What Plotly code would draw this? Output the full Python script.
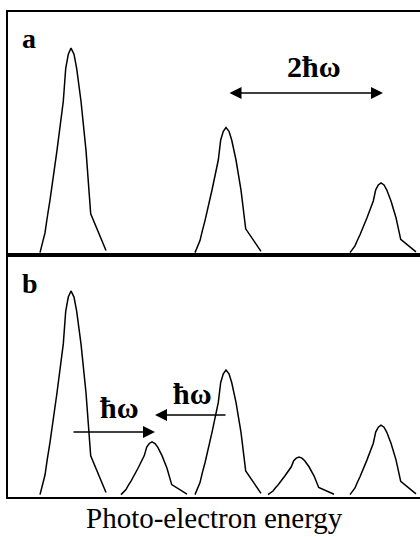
import plotly.graph_objects as go

# Normalised peak profile (offset from apex, fraction of peak height)
PROFILE_DX = [-31, -26, -23.7, -21, -14, -7.7, -5.3, -2.7, 0, 3, 5.7, 10, 15, 18.3, 19.7, 35]
PROFILE_Y = [0.0, 0.096, 0.174, 0.256, 0.5, 0.74, 0.9, 0.97, 1.0, 0.97, 0.9, 0.74, 0.5, 0.256, 0.19, 0.01]

# Panel a: photo-electron peaks (position, height)
A_CENTERS = [63, 218, 373]
A_HEIGHTS = [0.85, 0.52, 0.29]

# Panel b: with sidebands
B_CENTERS = [63, 144, 218, 291, 373]
B_HEIGHTS = [0.85, 0.22, 0.52, 0.157, 0.29]

X_TITLE = "Photo-electron energy"
FONT = "Liberation Serif, Times New Roman, serif"


def build(centers, heights):
    xs, ys = [], []
    for c, h in zip(centers, heights):
        xs += [c + d for d in PROFILE_DX] + [None]
        ys += [h * p for p in PROFILE_Y] + [None]
    return xs, ys


fig = go.Figure()
ax, ay = build(A_CENTERS, A_HEIGHTS)
bx, by = build(B_CENTERS, B_HEIGHTS)
fig.add_trace(go.Scatter(x=ax, y=ay, mode="lines", line=dict(color="black", width=1.5),
                         xaxis="x", yaxis="y", hoverinfo="skip", showlegend=False))
fig.add_trace(go.Scatter(x=bx, y=by, mode="lines", line=dict(color="black", width=1.5),
                         xaxis="x2", yaxis="y2", hoverinfo="skip", showlegend=False))

axis_common = dict(showgrid=False, zeroline=False, showticklabels=False, ticks="",
                   showline=True, linecolor="black", linewidth=1.5)

split = (497 - 255) / 485.0

fig.update_layout(
    width=420, height=537,
    margin=dict(l=8, r=0, t=12, b=40),
    paper_bgcolor="white", plot_bgcolor="white",
    xaxis=dict(range=[0, 412], domain=[0, 1], anchor="y", mirror=True, **axis_common),
    yaxis=dict(range=[-0.01, 1.0], domain=[split, 1], anchor="x", **axis_common),
    xaxis2=dict(range=[0, 412], domain=[0, 1], anchor="y2", mirror=True, **axis_common),
    yaxis2=dict(range=[-0.01, 1.0], domain=[0, split], anchor="x2", **axis_common),
    font=dict(family=FONT, color="black"),
)

annotations = [
    # panel labels
    dict(text="<b>a</b>", x=12, y=0.888, xref="x", yref="y", showarrow=False,
         xanchor="left", yanchor="middle", font=dict(size=28, family=FONT)),
    dict(text="<b>b</b>", x=12, y=0.883, xref="x2", yref="y2", showarrow=False,
         xanchor="left", yanchor="middle", font=dict(size=28, family=FONT)),
    # 2ħω double arrow
    dict(text="", x=375, y=0.663, ax=220, ay=0.663, xref="x", yref="y", axref="x", ayref="y",
         showarrow=True, arrowhead=2, arrowsize=1.6, arrowwidth=1.5, arrowcolor="black",
         arrowside="end+start", startarrowhead=2, startarrowsize=1.6, standoff=0, startstandoff=0),
    dict(text="<b>2ħω</b>", x=306, y=0.773, xref="x", yref="y", showarrow=False,
         xanchor="center", yanchor="middle", font=dict(size=30, family=FONT)),
    # panel b arrows
    dict(text="", x=147, y=0.261, ax=64, ay=0.261, xref="x2", yref="y2", axref="x2", ayref="y2",
         showarrow=True, arrowhead=2, arrowsize=1.6, arrowwidth=1.5, arrowcolor="black", standoff=0),
    dict(text="", x=147, y=0.332, ax=219, ay=0.332, xref="x2", yref="y2", axref="x2", ayref="y2",
         showarrow=True, arrowhead=2, arrowsize=1.6, arrowwidth=1.5, arrowcolor="black", standoff=0),
    dict(text="<b>ħω</b>", x=111, y=0.364, xref="x2", yref="y2", showarrow=False,
         xanchor="center", yanchor="middle", font=dict(size=30, family=FONT)),
    dict(text="<b>ħω</b>", x=184, y=0.422, xref="x2", yref="y2", showarrow=False,
         xanchor="center", yanchor="middle", font=dict(size=30, family=FONT)),
    # x-axis title
    dict(text=X_TITLE, x=0.5, y=-0.0433, xref="paper", yref="paper", showarrow=False,
         xanchor="center", yanchor="middle", font=dict(size=29, family=FONT)),
]
fig.update_layout(annotations=annotations)

fig.write_html("out.html", config={"displayModeBar": False},
               post_script="document.body.style.margin='0';")
